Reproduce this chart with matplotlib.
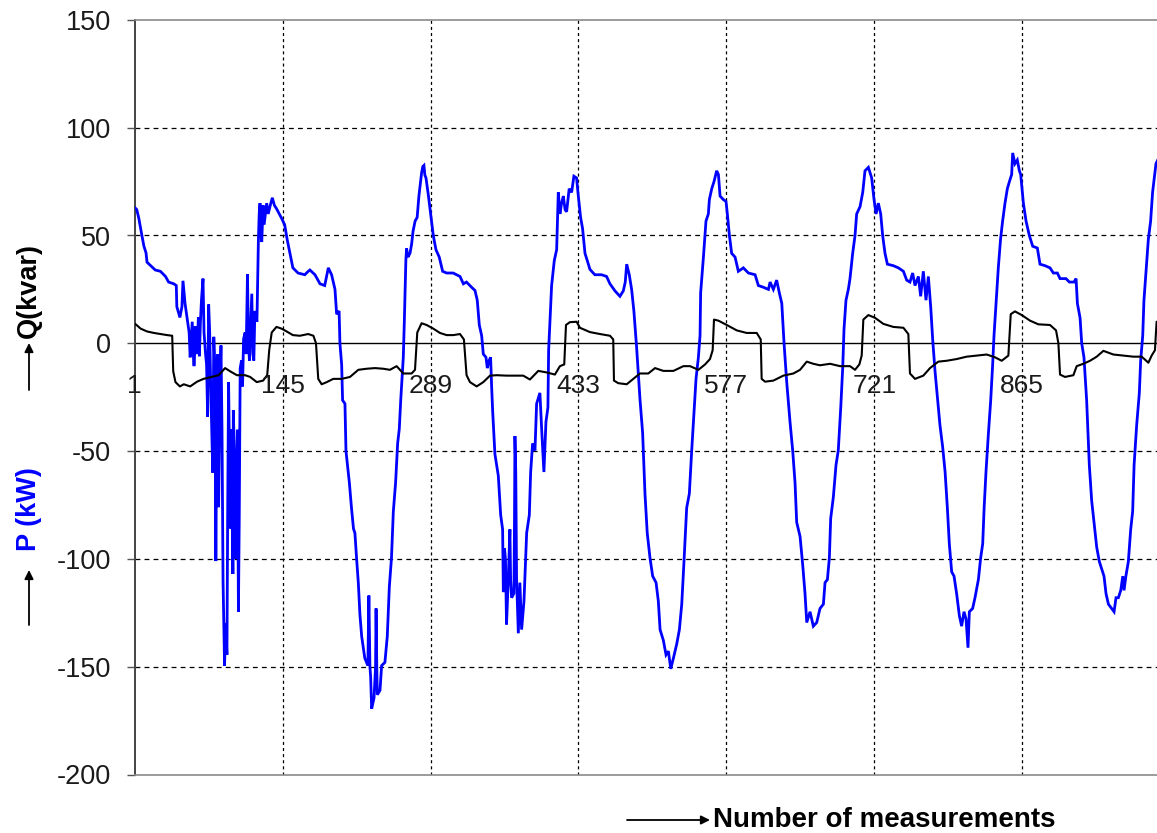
import matplotlib
matplotlib.use('Agg')
import matplotlib.pyplot as plt
from matplotlib.patches import FancyArrowPatch

plt.rcParams['font.family'] = ['Liberation Sans', 'DejaVu Sans']
plt.rcParams['lines.scale_dashes'] = False

# ---------------- data ----------------
p_x = [1, 3, 5, 8, 10, 12, 13, 16.5, 21, 26, 31, 34, 39, 41.5, 42, 45, 47, 48, 50, 54, 55, 57, 58.5,
       59, 60, 61, 62, 63, 64, 65, 66, 67.5, 68.5, 70, 71, 72, 73, 74, 75, 76, 77, 78, 79, 80, 81, 82,
       82.7, 84, 85, 86, 87, 88.5, 89.5, 90.8, 91.5, 92.4, 93.5, 94.6, 95.5, 96.6, 97, 98, 99, 100, 101,
       102, 102.8, 103.7, 105, 106, 107, 108.5, 109.5, 110.8, 111.8, 112.7, 114, 115, 116, 117, 118, 120,
       121.4, 122.2, 123, 124, 124.7, 126, 127, 129.5, 131, 133, 135, 137, 139, 144, 147, 149.5, 152, 155,
       160, 166.6, 170, 171.6, 176.5, 181.4, 186, 189.5, 192.7, 196, 197.6, 200, 200.8, 202.5, 203.4,
       205.7, 206.7, 210, 212, 214, 215.4, 217, 218.7, 220.3, 222, 225, 228, 229, 230, 230.7, 231.7, 234,
       235.5, 236, 236.7, 237.2, 239.8, 241.4, 244.6, 246.9, 248.9, 251, 252.8, 255, 257, 258.6, 260,
       262.5, 263.5, 265, 265.7, 267, 269, 270.6, 272, 274, 276, 277.7, 280.3, 281.5, 282.6, 283.5, 284.6,
       287, 289.4, 291.7, 294.3, 297.5, 300.8, 304.7, 311, 317.7, 321, 324, 329, 332.3, 334.5, 336.5,
       338.8, 340.4, 343, 344.3, 346, 347.5, 348.5, 349.5, 351.7, 355, 357.3, 359.2, 359.9, 361, 362, 363,
       364.7, 366.3, 367, 368, 370.2, 370.8, 371.2, 372, 372.8, 374.5, 376, 377.7, 380, 382.6, 385.2,
       386.5, 388.4, 390.7, 392.3, 395.5, 397.2, 399.4, 401.4, 403.3, 404, 405.3, 406.9, 409.5, 411.8,
       413.4, 415, 416.6, 418.3, 420, 421.5, 424, 426.4, 428.6, 431.2, 432.9, 435.1, 437, 439.4, 441.6,
       444.2, 449, 455.6, 460.4, 463.7, 468.6, 473.4, 476.7, 478.6, 480, 482.5, 484.8, 487, 489.6, 493,
       495.5, 497.8, 500, 502.7, 505.3, 508.6, 510.8, 512.5, 515.7, 518.3, 520.6, 522.9, 525.5, 528.7,
       531.3, 533.6, 535.8, 538.4, 541, 543.3, 545.6, 547.5, 549.8, 551.4, 552, 554.7, 557.2, 559.5,
       560.5, 562.8, 565, 567.6, 569.3, 570.9, 574, 576.7, 578, 580, 582.2, 585.5, 588.7, 593.6, 598.5,
       605, 608.2, 613, 618, 619.6, 622.8, 626, 628.6, 631, 633.2, 635.8, 639, 641.6, 643.9, 645.5,
       648.8, 651.4, 653.6, 655.3, 658.5, 661.7, 665, 668.2, 671.5, 673.1, 675.4, 677.3, 678.6, 681.2,
       683.8, 686, 688.4, 690.3, 691.6, 693.5, 695.8, 697.4, 700, 702.3, 703.9, 707.2, 709.8, 712, 715.3,
       718.5, 720.8, 722.8, 725, 727.3, 729.2, 731.5, 733.8, 739.6, 744.5, 749.4, 752.6, 755.8, 758.4,
       760.7, 764, 766.2, 768.8, 771.4, 773.7, 776, 777.9, 780.2, 782.8, 785, 787.6, 790, 792.2, 794.1,
       796.4, 798.7, 801.3, 803.9, 806.1, 808.4, 810.4, 812.3, 813.6, 816.8, 819.1, 822.4, 824.6, 826.6,
       828, 829.8, 832, 834.4, 836.3, 837.6, 839.6, 841.8, 844, 846, 848.3, 850.6, 852.6, 854.8, 855.8,
       858, 860.3, 862.3, 863.6, 866.2, 868.8, 872, 875.3, 879.8, 882.4, 887.3, 892.1, 895.4, 899.3,
       901.9, 907.7, 911, 915.5, 917.5, 918.8, 921.4, 923, 925.2, 927.8, 930.4, 932.7, 935, 937.6, 940.2,
       942.4, 944.7, 946.7, 949, 952.2, 954.5, 956.4, 958.7, 961, 963, 964.2, 966, 968.4, 970.7, 972.6,
       974, 976.5, 979.1, 980.4, 982.4, 983.6, 985.6, 987.9, 990.1, 992, 993.7, 995.3, 997]
p_val = [63, 62, 58, 50, 45, 42, 37.6, 36, 34, 33.4, 31, 28.4, 27.6, 26.8, 17, 12, 17, 29, 18.5, 5, -6.5, 10, -10,
         -10, 8, -5, 0, 12, -6, 10, 20, 30, 5, -5, -10, -34, 18, 5, -20, -40, -60, 3, -10, -101, -30, -5,
         -76, -20, -1, -40, -110, -149.5, -130, -144.5, -80, -18, -60, -86, -40, -107, -31, -50, -100, -70, -40,
         -124.5, -80, -11.5, -8, -20, 2, 5, -5, 32, 0, -8, 10, 23, -5, -8, 15, 10,
         47, 60, 65, 50, 47, 64, 55, 65, 60, 64, 67.5, 64, 62.5, 58, 55, 48, 42, 35,
         32.6, 31.8, 33.4, 34, 31.8, 27.6, 26.8, 35, 31.8, 25, 13.5, 15, 0, -10, -26.4,
         -28, -50, -64.7, -76, -86, -88, -99.6, -111, -126, -136, -146, -149.5, -117, -150, -154.5, -169.5, -164.5,
         -150, -123, -150, -163, -161, -149.5, -148, -136, -113, -99.6, -78, -64.7, -46.4, -39.7, -26.4,
         -6.5, 10, 38.4, 44, 40, 41.7, 46, 52, 56.7, 58.4, 68.3, 79, 82, 82.5, 78, 76.7,
         68.3, 59, 50, 43.4, 40, 33.4, 32.6, 32.6, 31, 27.6, 28.4, 26, 24.5, 20, 8.5,
         3.5, -5, -6.5, -11.5, -8, -6.5, -20, -31.4, -51.4, -61.4, -79.6, -86.3, -115.4, -95, -100.4, -130.4,
         -109.6, -86.3, -110, -118, -116, -80, -43, -60, -109.6, -134.5, -111, -132.8, -119.6, -88, -79.6,
         -59.7, -46.4, -49.7, -28, -23, -39.7, -59.7, -36.4, -29.8, -3.2, 10, 26.8, 38.4, 43.4,
         70, 60, 65, 68.3, 62, 61, 71.7, 70, 77.5, 76.7, 68.3, 58.4, 53.4, 41.7, 38.4,
         34.3, 31.8, 31.8, 31, 27.6, 24.3, 21.8, 24.3, 28.4, 36.7, 31.8, 25, 15, -1.5, -26.4,
         -41.4, -69.7, -88, -99.6, -108, -111, -119.6, -132.8, -137.8, -144.5, -142.8, -151, -146, -139.5,
         -132.8, -121, -101, -76.3, -69.7, -49.7, -31.4, -16.5, -6.5, 3.5, 23.4, 40, 56.7, 60,
         66.7, 71.7, 75, 80, 78.3, 68.3, 66.7, 65.8, 60, 50, 41.7, 40, 33.4, 35, 32.6,
         31.8, 26.8, 26, 25, 28.4, 25, 29.3, 23.4, 18.5, 0, -18, -36.4, -49.7, -64.7, -83,
         -89.6, -103, -116, -129.5, -124.5, -131.2, -129.5, -123, -121, -111, -109.6, -99.6, -81.3, -71.3,
         -56.4, -49.7, -29.8, -11.5, 6.8, 20, 25, 30, 41.7, 50, 60, 63.4, 70, 80, 81.6,
         76.7, 66.7, 60, 65, 60, 50, 41.7, 36.7, 36, 35, 33.4, 29.3, 28.4, 32.6,
         26.8, 31, 21.8, 33.4, 20, 31, 16.8, 1.8, -13, -26.4, -38, -48, -59.7, -76.3, -93,
         -106, -108, -116.4, -126.4, -131.2, -124.5, -127.9, -141.2, -124.5, -123, -118, -109.6, -99.6, -93,
         -76.3, -59.7, -43, -26.4, -9.8, 3.5, 18.5, 35, 48.4, 56.7, 65, 71.7, 75, 78.3, 88.3,
         83.3, 85, 80, 78.3, 65, 56.7, 50, 45, 44.2, 36.7, 36, 35, 32.6, 32.6,
         30, 30, 28.4, 28.4, 30, 18.5, 11.8, 0, -6.5, -26.4, -56.4, -73, -83, -94.6, -101.3,
         -104.6, -108, -116.2, -121, -123, -124.5, -118, -118, -114.6, -108, -114.6, -108, -101.3, -86.3, -78,
         -56.4, -38, -23, -8, 3.5, 20, 33.4, 48.4, 56.7, 70, 76.7, 83.3, 85]

q_x = [1, 2, 6.8, 13, 19.7, 26, 32.6, 37.5, 38.5, 40.7, 45, 48.8, 55, 61.7, 68, 76, 82.7, 89, 94, 100.5,
       108.5, 113.4, 119.8, 126, 130, 132, 134.4, 139, 144, 148.9, 155, 161.8, 169.9, 175, 177.5, 179.7,
       183, 188, 194.3, 202.5, 210.6, 218.7, 226.8, 235, 243, 249.5, 256, 262.5, 270.6, 273.9, 276.1,
       280.3, 285.2, 291.7, 298.2, 304.7, 311.2, 317.7, 321.5, 324.1, 327.4, 333.9, 340.4, 346.9, 353.4,
       363.1, 372.8, 379.3, 385.8, 393.9, 402, 410.1, 415, 419.2, 420.9, 424.7, 431.2, 434.5, 444.2, 454,
       463.7, 466.9, 467.6, 471.8, 480, 486.4, 492.9, 501, 507.6, 515.7, 525.5, 535.2, 541.7, 549.8, 556.3,
       561.1, 563.7, 565, 569.3, 577.4, 587.1, 596.8, 606.6, 610.5, 611.4, 614.7, 622.8, 632.5, 642.3,
       648.8, 655.3, 661.7, 668.2, 678, 687.7, 697.4, 702.3, 706.5, 708.8, 710.4, 715.3, 721.8, 729.9,
       739.6, 749.4, 754.2, 755.8, 760.7, 768.8, 775.3, 783.4, 791.5, 801.3, 811, 820.8, 830.5, 838.6,
       845.1, 851.6, 853.9, 858, 864.6, 872.7, 880.8, 892.1, 898, 900.3, 901.9, 906.7, 914.9, 918.1,
       924.6, 931.1, 937.6, 944.1, 953.8, 963.5, 973.3, 981.4, 987.9, 991.1, 994.3, 995.9, 997]
q_val = [9, 8.8, 6.8, 5.5, 4.8, 4.3, 3.8, 3.5, -13, -18, -20, -19, -20, -17.8, -16.5, -15.6, -14.8, -11.5, -13, -14.8,
         -14.8, -15.6, -18, -17.3, -14.8, -3, 5, 7.6, 6.8, 5.5, 3.8, 3.5, 4.3, 3.5, 0, -16.5,
         -19, -18, -16.5, -16.5, -15.6, -12.3, -11.8, -11.5, -11.8, -12.3, -10.6, -14, -14, -12.3, 5,
         9.3, 8.5, 6.8, 4.8, 3.8, 3.8, 4.3, 1.8, -14.8, -18, -20, -18, -15, -14.8,
         -15, -15, -15, -16.8, -12.8, -13.5, -14.5, -10.6, -9.8, 8.5, 9.8, 10, 7.2, 5.2, 4.3,
         3.5, 1.8, -17.3, -18.5, -19, -16.5, -14, -14, -11.5, -12.8, -12.8, -10.6, -10.6, -12.3, -9.8,
         -7.3, -3.2, 11, 10.5, 8.5, 6, 4.8, 4.8, 1.8, -16.5, -17.8, -17.3, -15, -14,
         -12.3, -8.5, -9.5, -10.2, -9.5, -10.6, -10.6, -12.3, -9.8, -5.7, 11, 13.1, 11.8, 9,
         7.6, 7.2, 4.3, -14, -16.5, -15, -11.5, -8.5, -8.1, -7.3, -6.2, -5.7, -5.2, -6.5,
         -8.1, -5.7, 13.5, 14.8, 13.1, 10.5, 8.8, 8.5, 6, 0, -14.5, -15.6, -14.8, -10.6,
         -9.5, -8.1, -6.2, -3.5, -5.2, -5.7, -6.2, -6.2, -9, -5.7, -3.2, 10, 10]

x_ticks = [1, 145, 289, 433, 577, 721, 865]
x_tick_labels = ['1', '145', '289', '433', '577', '721', '865']
y_ticks = [-200, -150, -100, -50, 0, 50, 100, 150]
x_range = [1, 996.3]
y_range = [-200, 150]

# ---------------- figure ----------------
W, H = 1157, 833
fig = plt.figure(figsize=(W / 100, H / 100), dpi=100)
ax_left, ax_top, ax_bottom = 134.7, 19.9, 774.5
ax = fig.add_axes([ax_left / W, 1 - ax_bottom / H, (W - ax_left) / W, (ax_bottom - ax_top) / H])
ax.set_xlim(*x_range)
ax.set_ylim(*y_range)

# grid
for yv in y_ticks:
    if yv in (0, y_range[0], y_range[1]):
        continue
    ax.axhline(yv, color='black', lw=0.9, ls=(0, (3.5, 3)), zorder=1)
for xv in x_ticks[1:]:
    ax.axvline(xv, color='black', lw=0.9, ls=(0, (2.2, 2.2)), zorder=1)
ax.axhline(0, color='black', lw=1.0, zorder=2)

# series
ax.plot(p_x, p_val, color='#0000FF', lw=2.0, zorder=3, solid_joinstyle='miter')
ax.plot(q_x, q_val, color='black', lw=1.5, zorder=4)

# x labels at the zero line
for xv, lab in zip(x_ticks, x_tick_labels):
    ax.text(xv, -19.7, lab, ha='center', va='center', fontsize=19, color='#1a1a1a', zorder=5, clip_on=False)

# axes styling
ax.set_xticks([])
ax.set_yticks(y_ticks)
ax.set_yticklabels([str(v) for v in y_ticks])
ax.tick_params(axis='y', direction='out', length=6, width=1.0, color='#555555', pad=11,
               labelsize=19.5, labelcolor='#1a1a1a')
ax.spines['right'].set_visible(False)
ax.spines['left'].set_color('#444444')
ax.spines['left'].set_linewidth(1.4)
ax.spines['top'].set_color('#8a8a8a')
ax.spines['top'].set_linewidth(1.2)
ax.spines['bottom'].set_color('#8a8a8a')
ax.spines['bottom'].set_linewidth(1.2)


def fx(px):
    return px / W


def fy(py):
    return 1 - py / H


def arrow(x0, y0, x1, y1):
    fig.add_artist(FancyArrowPatch((fx(x0), fy(y0)), (fx(x1), fy(y1)), transform=fig.transFigure,
                                   arrowstyle='-|>', mutation_scale=13, lw=1.3, color='black',
                                   shrinkA=0, shrinkB=0))


# y-axis labels with arrows
fig.text(fx(28.5), fy(290), 'Q(kvar)', rotation=90, ha='center', va='center',
         fontsize=19.5, fontweight='bold', color='black')
arrow(29, 390, 29, 343)
fig.text(fx(28.5), fy(509.5), 'P (kW)', rotation=90, ha='center', va='center',
         fontsize=19.5, fontweight='bold', color='#0000FF')
arrow(29, 625, 29, 570)

# x-axis label with arrow
arrow(627, 820, 710, 820)
fig.text(fx(713), fy(820), 'Number of measurements', ha='left', va='center',
         fontsize=20, fontweight='bold', color='black')

fig.savefig('out.png', dpi=100)
